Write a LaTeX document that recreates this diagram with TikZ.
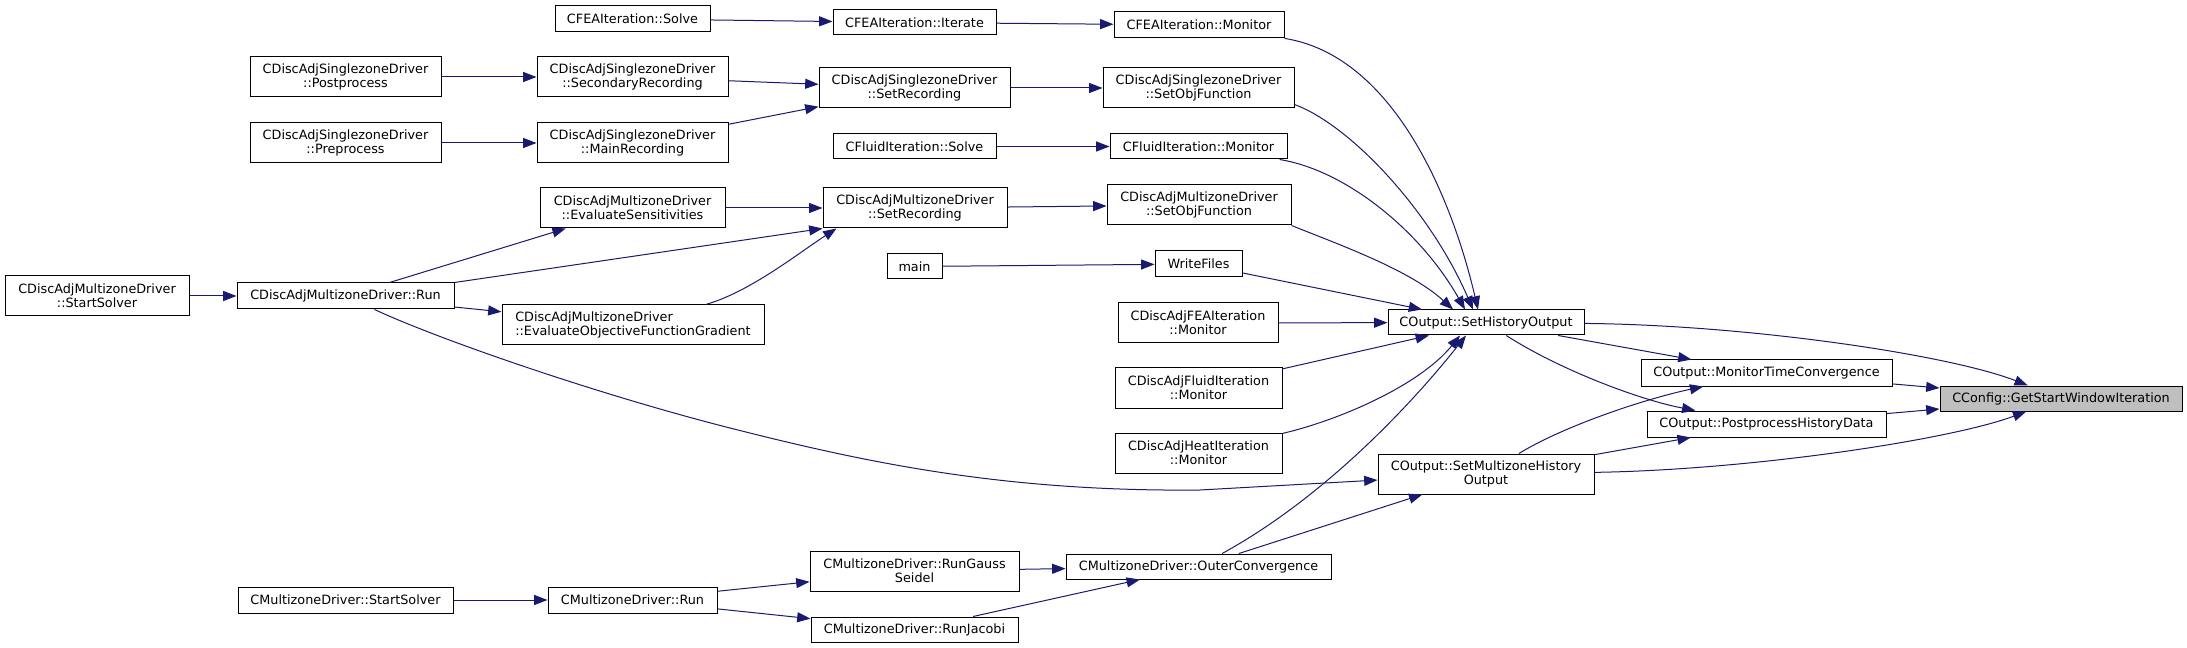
\documentclass[tikz,border=0pt]{standalone}
\usepackage{fontspec}
\setmainfont{DejaVu Sans}
\usetikzlibrary{arrows.meta}
\definecolor{callblue}{HTML}{191970}
\definecolor{hitgrey}{HTML}{BFBFBF}
\tikzset{
    fn/.style = {draw = black, fill = white, line width = 0.75pt, inner sep = 0pt, align = center, font = \fontsize{9.6}{10.8}\selectfont},
    call/.style = {draw = callblue, line width = 0.75pt, -{Triangle[length = 10pt, width = 7.5pt]}},
}
\begin{document}
\begin{tikzpicture}[x = 0.75pt, y = -0.75pt]
        \useasboundingbox (0, 0) rectangle (2187, 648);
        \foreach \nn/\xa/\ya/\xb/\yb/\txt in {
            fsolve/555/6/710/32/{CFEAIteration::Solve},
            fiter/833/10/996/35/{CFEAIteration::Iterate},
            fmon/1114/12/1284/38/{CFEAIteration::Monitor},
            szpost/250/57/441/97/{CDiscAdjSinglezoneDriver\\::Postprocess},
            szsec/537/57/728/97/{CDiscAdjSinglezoneDriver\\::SecondaryRecording},
            szpre/250/123/441/163/{CDiscAdjSinglezoneDriver\\::Preprocess},
            szmain/537/123/728/163/{CDiscAdjSinglezoneDriver\\::MainRecording},
            szrec/819/68/1010/108/{CDiscAdjSinglezoneDriver\\::SetRecording},
            szobj/1103/68/1294/108/{CDiscAdjSinglezoneDriver\\::SetObjFunction},
            flsolve/833/134/996/159/{CFluidIteration::Solve},
            flmon/1110/134/1287/159/{CFluidIteration::Monitor},
            mzsens/540/188/725/228/{CDiscAdjMultizoneDriver\\::EvaluateSensitivities},
            mzrec/823/188/1007/228/{CDiscAdjMultizoneDriver\\::SetRecording},
            mzobj/1107/185/1291/225/{CDiscAdjMultizoneDriver\\::SetObjFunction},
            main/887/254/942/279/{main},
            wfiles/1155/251/1242/277/{WriteFiles},
            mzstart/5/276/189/316/{CDiscAdjMultizoneDriver\\::StartSolver},
            mzrun/237/283/454/309/{CDiscAdjMultizoneDriver::Run},
            dafe/1118/303/1278/343/{CDiscAdjFEAIteration\\::Monitor},
            sho/1388/310/1584/335/{COutput::SetHistoryOutput},
            dafl/1115/368/1282/408/{CDiscAdjFluidIteration\\::Monitor},
            daht/1115/433/1282/473/{CDiscAdjHeatIteration\\::Monitor},
            smho/1378/454/1594/494/{COutput::SetMultizoneHistory\\Output},
            mtc/1641/360/1892/386/{COutput::MonitorTimeConvergence},
            phd/1647/411/1886/437/{COutput::PostprocessHistoryData},
            cmstart/238/587/453/613/{CMultizoneDriver::StartSolver},
            cmrun/548/587/717/613/{CMultizoneDriver::Run},
            rgs/810/551/1019/591/{CMultizoneDriver::RunGauss\\Seidel},
            rjac/811/617/1018/642/{CMultizoneDriver::RunJacobi},
            outc/1066/554/1331/579/{CMultizoneDriver::OuterConvergence}}{
            \pgfmathsetmacro{\nw}{(\xb - \xa) * 0.75}
            \pgfmathsetmacro{\nh}{(\yb - \ya) * 0.75}
            \node[fn, minimum width = \nw pt, minimum height = \nh pt] (\nn) at ({(\xa + \xb) / 2}, {(\ya + \yb) / 2}) {\txt};
        }
        \node[fn, align = left, minimum width = 196.5pt, minimum height = 30pt] (mzgrad) at (633, 325) {CDiscAdjMultizoneDriver\\::EvaluateObjectiveFunctionGradient};
        \node[fn, fill = hitgrey, minimum width = 181.5pt, minimum height = 18.75pt] (cfg) at (2061, 398.5) {CConfig::GetStartWindowIteration};
        \foreach \ea/\eb in {fsolve/fiter, fiter/fmon, szpost/szsec, szpre/szmain, szsec/szrec, szmain/szrec, szrec/szobj,
            flsolve/flmon, mzsens/mzrec, mzrun.north east/mzrec.south west, mzrec/mzobj, main/wfiles, wfiles/sho, dafe/sho, dafl/sho,
            mzstart/mzrun, mzrun/mzsens, mzrun/mzgrad, cmstart/cmrun, cmrun/rgs, cmrun/rjac, rgs/outc, rjac/outc, outc/smho,
            sho/mtc, smho/phd, mtc/cfg, phd/cfg}{
            \draw[call] (\ea) -- (\eb);
        }
        \draw[call] (fmon) .. controls (1390, 55) and (1450, 190) .. ([xshift = -6pt]sho.north);
        \draw[call] ([yshift = 3pt]szobj.south east) .. controls (1350, 125) and (1430, 210) .. ([xshift = -9.75pt]sho.north);
        \draw[call] (flmon) .. controls (1345, 170) and (1420, 230) .. ([xshift = -15.75pt]sho.north);
        \draw[call] (mzobj.south east) .. controls (1340, 245) and (1410, 270) .. ([xshift = -24.75pt]sho.north);
        \draw[call] (daht) .. controls (1340, 420) and (1420, 385) .. ([xshift = -19.5pt]sho.south);
        \draw[call] (outc) .. controls (1336, 491) and (1426, 386) .. ([xshift = -15pt]sho.south);
        \draw[call] (mzgrad) .. controls (750, 292) and (800, 252) .. ([xshift = 10.5pt]mzrec.south west);
        \draw[call] (mzrun) .. controls (440, 340) and (600, 395) .. (730, 428) .. controls (860, 461) and (1000, 492) .. (1200, 490) -- (smho);
        \draw[call] (sho) .. controls (1560, 370) and (1640, 400) .. (phd);
        \draw[call] (smho) .. controls (1560, 428) and (1640, 400) .. (mtc);
        \draw[call] (sho) .. controls (1750, 325) and (1950, 355) .. (cfg);
        \draw[call] (smho) .. controls (1750, 470) and (1950, 440) .. (cfg);
    \end{tikzpicture}
\end{document}
